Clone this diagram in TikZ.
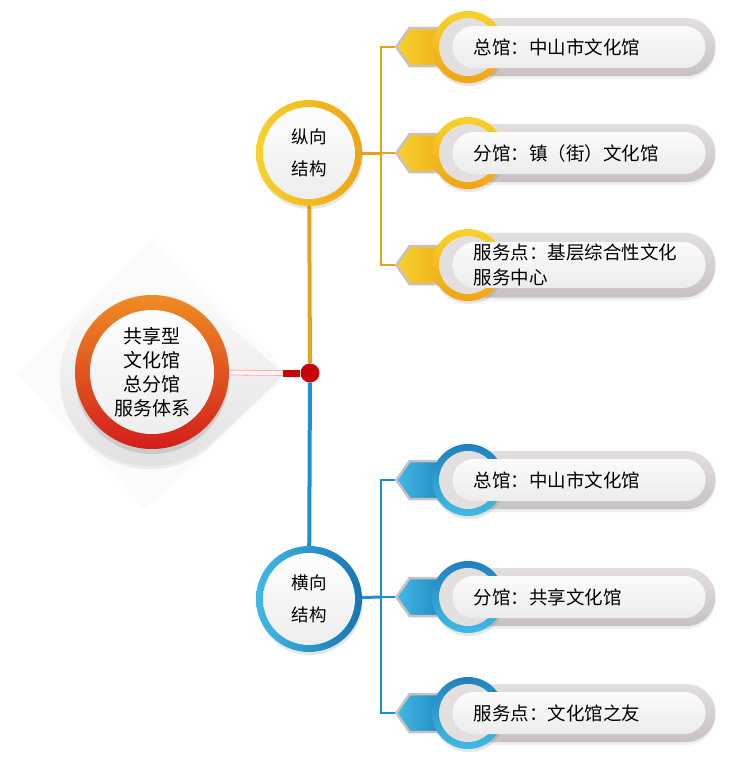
\documentclass[tikz,border=0pt]{standalone}
\usepackage{fontspec}
\newfontfamily\cjk{Noto Sans CJK SC}
\usetikzlibrary{shapes.misc,shapes.symbols,shadows,backgrounds}

\definecolor{yelA}{HTML}{F6D22C}
\definecolor{yelB}{HTML}{EFA416}
\definecolor{orline}{HTML}{E8A21A}
\definecolor{bluA}{HTML}{41BAE4}
\definecolor{bluB}{HTML}{1773B3}
\definecolor{blline}{HTML}{1C8ED6}
\definecolor{redA}{HTML}{EF8C24}
\definecolor{redB}{HTML}{D31E1B}
\definecolor{hubred}{HTML}{C80404}
\definecolor{pillA}{HTML}{E4DFDF}
\definecolor{pillB}{HTML}{C9C1C1}
\definecolor{cardA}{HTML}{FBFBFB}
\definecolor{cardB}{HTML}{ECECEC}

\begin{document}
\begin{tikzpicture}[
  x=1pt, y=-1pt,
  font=\cjk,
  core/.style={
    circle,
    minimum size=154pt,
    top color=redA, bottom color=redB,
    drop shadow={opacity=0.25, shadow xshift=0pt, shadow yshift=-5pt},
    path picture={\shade[top color=white, bottom color=cardB]
      (path picture bounding box.center) circle (62pt);},
    align=center,
    font=\cjk\fontsize{19}{24}\selectfont
  },
  struct/.style={
    circle,
    minimum size=106pt,
    drop shadow={opacity=0.2, shadow xshift=1pt, shadow yshift=-3pt},
    path picture={\shade[top color=white, bottom color=cardB]
      (path picture bounding box.center) circle (46pt);},
    align=center,
    font=\cjk\fontsize{17.5}{32}\selectfont
  },
  structv/.style={struct, left color=yelA, right color=yelB},
  structh/.style={struct, left color=bluA, right color=bluB},
  hub/.style={circle, fill=hubred, minimum size=19pt, inner sep=0pt},
  tab/.style={
    signal, signal to=west, signal pointer angle=110,
    minimum width=64pt, minimum height=38pt,
    draw=pillB, line width=2.5pt, inner sep=0pt
  },
  tabv/.style={tab, left color=yelA, right color=yelB},
  tabh/.style={tab, left color=bluA, right color=bluB},
  pill/.style={
    rounded rectangle,
    minimum width=275pt, minimum height=58pt,
    inner sep=0pt,
    top color=pillA, bottom color=pillB,
    drop shadow={opacity=0.12, shadow xshift=0pt, shadow yshift=-3pt}
  },
  dot/.style={
    circle,
    minimum size=72pt, inner sep=0pt,
    drop shadow={opacity=0.2, shadow xshift=1pt, shadow yshift=-3pt},
    path picture={\fill[pillA] (path picture bounding box.center) circle (29pt);}
  },
  dotv/.style={dot, top color=yelA, bottom color=yelB},
  doth/.style={dot, top color=bluB!80!bluA, bottom color=bluA},
  card/.style={
    rounded rectangle,
    minimum width=253pt, minimum height=42pt,
    inner xsep=0pt, inner ysep=2pt,
    text width=211pt, align=left,
    top color=cardA, bottom color=cardB,
    font=\cjk\fontsize{18.5}{25}\selectfont
  },
  trunkv/.style={draw=orline, line width=4pt},
  trunkh/.style={draw=blline, line width=4pt},
  linkv/.style={draw=orline, line width=1.6pt},
  linkh/.style={draw=blline, line width=1.6pt}
]

\useasboundingbox (0,0) rectangle (749,761);

% centre
\node[core] (core) at (152,372) {共享型\\文化馆\\总分馆\\服务体系};
\coordinate (tip) at (283,373);
\node[hub] (hub) at (310,373) {};

% two structures
\node[structv] (vert) at (309,153) {纵向\\结构};
\node[structh] (horiz) at (309,599) {横向\\结构};
\coordinate (vbus) at (381,153);
\coordinate (hbus) at (381,597);

% vertical structure
\node[tabv] (v1tab) at (435,47) {};
\node[pill] at (578,47) {};
\node[dotv] at (468,47) {};
\node[card] (v1) at (579,47) {总馆：中山市文化馆};

\node[tabv] (v2tab) at (435,153) {};
\node[pill] at (578,153) {};
\node[dotv] at (468,153) {};
\node[card] (v2) at (579,153) {分馆：镇（街）文化馆};

\node[tabv] (v3tab) at (435,265) {};
\node[pill, minimum height=65pt] at (578,265) {};
\node[dotv] at (468,265) {};
\node[card, minimum height=46pt] (v3) at (579,265) {服务点：基层综合性文化\\服务中心};

% horizontal structure
\node[tabh] (h1tab) at (435,480) {};
\node[pill] at (578,480) {};
\node[doth] at (468,480) {};
\node[card] (h1) at (579,480) {总馆：中山市文化馆};

\node[tabh] (h2tab) at (435,597) {};
\node[pill] at (578,597) {};
\node[doth] at (468,597) {};
\node[card] (h2) at (579,597) {分馆：共享文化馆};

\node[tabh] (h3tab) at (435,713) {};
\node[pill] at (578,713) {};
\node[doth] at (468,713) {};
\node[card] (h3) at (579,713) {服务点：文化馆之友};

\begin{scope}[on background layer]
  \fill[black!1.5] (17,374) -- (153,238) -- (290,374) -- (145,510) -- cycle;
  \shade[top color=black!1, bottom color=black!12, drop shadow={opacity=0.12, shadow xshift=0pt, shadow yshift=-3pt}]
    (tip) -- (211,310) arc[start angle=47.4, end angle=312.6, radius=90pt] -- cycle;
  \draw[draw=red!35, double=red!4, double distance=4pt, line width=0.8pt] (core) -- (tip);
  \draw[draw=hubred, line width=7pt] (tip) -- (hub);
  \draw[trunkv] (vert) -- (hub);
  \draw[trunkh] (hub) -- (horiz);
  \draw[trunkv, line width=3pt] (vert) -- (vbus);
  \draw[linkv] (v1tab.west) -| (vbus) |- (v3tab.west);
  \draw[linkv] (vbus) -- (v2tab.west);
  \draw[trunkh, line width=3pt] (horiz) -- (hbus);
  \draw[linkh] (h1tab.west) -| (hbus) |- (h3tab.west);
  \draw[linkh] (hbus) -- (h2tab.west);
\end{scope}

\end{tikzpicture}
\end{document}
